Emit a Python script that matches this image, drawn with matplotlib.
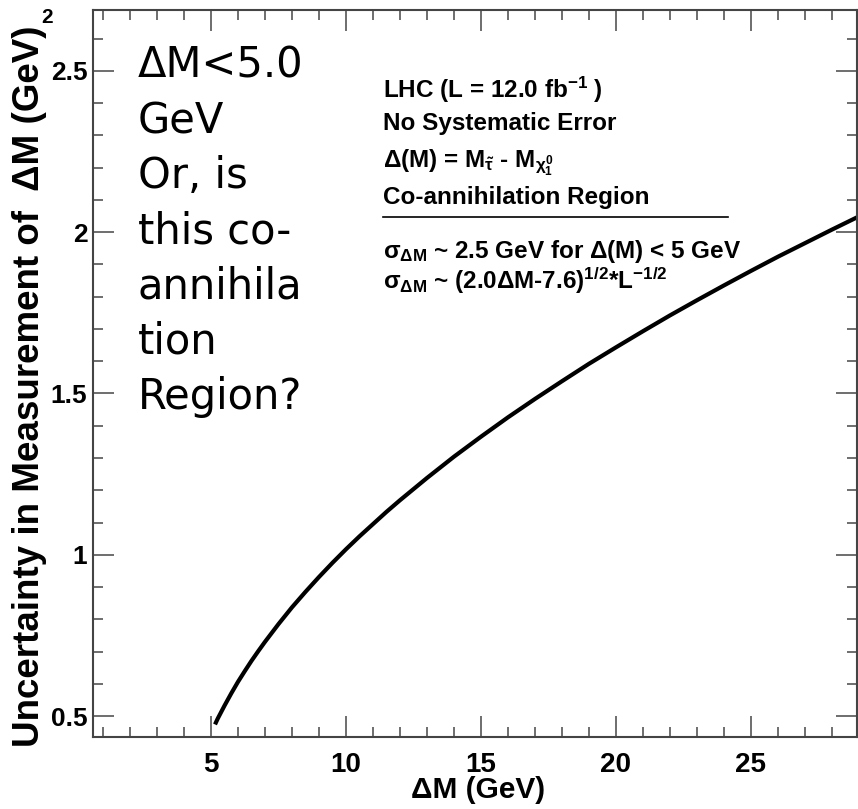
import matplotlib
matplotlib.use("Agg")
import matplotlib.pyplot as plt
from matplotlib.lines import Line2D
from matplotlib.ticker import MultipleLocator, FixedLocator, FuncFormatter

# curve: uncertainty vs mass difference
delta_m = [5.15, 5.25, 5.5, 5.75, 6.0, 6.25, 6.5, 6.75, 7.0, 7.5, 8.0, 8.5, 9.0, 9.5,
           10.0, 10.5, 11.0, 11.5, 12.0, 13.0, 14.0, 15.0, 16.0, 17.0, 18.0, 19.0,
           20.0, 21.0, 22.0, 23.0, 24.0, 25.0, 26.0, 27.0, 28.0, 29.0]
sigma_dm = [0.474, 0.492, 0.532, 0.570, 0.606, 0.639, 0.671, 0.701, 0.730, 0.785,
            0.837, 0.885, 0.931, 0.975, 1.017, 1.057, 1.095, 1.133, 1.169, 1.238,
            1.304, 1.366, 1.426, 1.483, 1.538, 1.592, 1.643, 1.693, 1.742, 1.789,
            1.835, 1.880, 1.924, 1.966, 2.008, 2.049]

x_major = [5, 10, 15, 20, 25]
y_major = [0.5, 1.0, 1.5, 2.0, 2.5]

note_lines = [
    r"LHC (L = 12.0 fb$^{-1}$ )",
    "No Systematic Error",
    r"Δ(M) = M$_{\tilde{\tau}}$ - M$_{\chi^0_1}$",
    "Co-annihilation Region",
    r"$\mathrm{\sigma}_{\mathrm{\Delta M}}$ ~ 2.5 GeV for Δ(M) < 5 GeV",
    r"$\mathrm{\sigma}_{\mathrm{\Delta M}}$ ~ (2.0ΔM-7.6)$^{1/2}$*L$^{-1/2}$",
]
note_baselines = [98, 130, 168, 204, 258, 289]  # pixel rows

big_text = "ΔM<5.0\nGeV\nOr, is\nthis co-\nannihila\ntion\nRegion?"

plt.rcParams["font.family"] = ["Liberation Sans", "DejaVu Sans"]
plt.rcParams["mathtext.fontset"] = "custom"
plt.rcParams["mathtext.rm"] = "Liberation Sans:bold"
plt.rcParams["mathtext.it"] = "Liberation Sans:bold"
plt.rcParams["mathtext.bf"] = "Liberation Sans:bold"

W, H = 858, 809
fig = plt.figure(figsize=(W / 100, H / 100), dpi=100)
fig.patch.set_facecolor("white")
ax = fig.add_axes([93 / W, (H - 737) / H, (857 - 93) / W, (737 - 10) / H])

ax.plot(delta_m, sigma_dm, color="black", linewidth=3, solid_capstyle="butt")

ax.set_xlim(0.63, 28.93)
ax.set_ylim(0.435, 2.689)

ax.xaxis.set_major_locator(FixedLocator(x_major))
ax.xaxis.set_minor_locator(MultipleLocator(1))
ax.yaxis.set_major_locator(FixedLocator(y_major))
ax.yaxis.set_minor_locator(MultipleLocator(0.1))
ax.yaxis.set_major_formatter(FuncFormatter(lambda v, p: f"{v:g}"))

for s in ax.spines.values():
    s.set_color("#444444")
    s.set_linewidth(1.5)

ax.tick_params(which="both", direction="in", top=True, right=True,
               color="#555555", width=1.2)
ax.tick_params(which="major", length=15)
ax.tick_params(which="minor", length=7.5)
ax.tick_params(axis="x", which="major", pad=11, labelsize=20)
ax.tick_params(axis="y", which="major", pad=4, labelsize=19)
for lab in ax.get_xticklabels() + ax.get_yticklabels():
    lab.set_fontweight("bold")

fig.text(478 / W, 1 - 790 / H, "ΔM (GeV)", ha="center", va="center",
         fontsize=21.5, fontweight="bold")
fig.text(30 / W, 1 - 386 / H, "Uncertainty in Measurement of  ΔM (GeV)",
         rotation=90, ha="center", va="center", fontsize=26.5, fontweight="bold")
fig.text(47 / W, 1 - 23 / H, "2", ha="center", va="baseline",
         fontsize=15, fontweight="bold")

# overlaid question text
fig.text(138 / W, 1 - 45 / H, big_text, ha="left", va="top",
         fontsize=30, family="DejaVu Sans", linespacing=1.4)

# notes block
for txt, yb in zip(note_lines, note_baselines):
    fig.text(383 / W, 1 - yb / H, txt, ha="left", va="baseline",
             fontsize=17.5, fontweight="bold")
fig.add_artist(Line2D([383 / W, 728 / W], [1 - 217 / H, 1 - 217 / H],
                      transform=fig.transFigure, color="black", linewidth=1.2))

fig.savefig("out.png", dpi=100)
